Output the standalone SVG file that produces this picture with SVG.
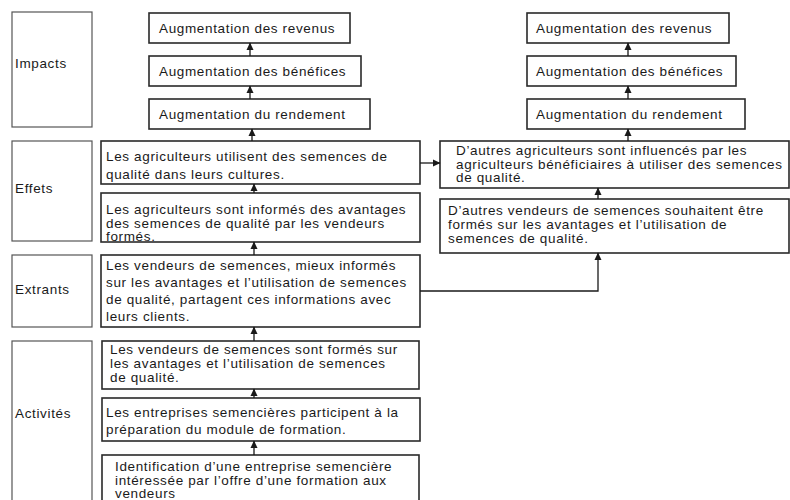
<svg xmlns="http://www.w3.org/2000/svg" width="790" height="500" viewBox="0 0 790 500">
<style>
text{font-family:"Liberation Sans",Arial,sans-serif;font-size:13.5px;letter-spacing:0.65px;fill:#1a1a1a}
.lbl{fill:#fff;stroke:#555;stroke-width:1.2}
.box{fill:#fff;stroke:#2a2a2a;stroke-width:1.6}
.con{fill:none;stroke:#1a1a1a;stroke-width:1.3}
</style>
<defs>
<marker id="ah" markerUnits="userSpaceOnUse" markerWidth="8" markerHeight="8" viewBox="0 0 8 8" refX="7" refY="4" orient="auto">
<path d="M0,0.5 L7.5,4 L0,7.5 Z" fill="#1a1a1a"/>
</marker>
</defs>
<g id="lbl-impacts"><rect class="lbl" x="12" y="12" width="80" height="115"/><text x="15" y="68">Impacts</text></g>
<g id="lbl-effets"><rect class="lbl" x="12" y="141" width="80" height="100"/><text x="15" y="193">Effets</text></g>
<g id="lbl-extrants"><rect class="lbl" x="12" y="255" width="80" height="72"/><text x="15" y="294">Extrants</text></g>
<g id="lbl-activites"><rect class="lbl" x="12" y="341" width="80" height="170"/><text x="15" y="418">Activités</text></g>

<g id="l-revenus"><rect class="box" x="149" y="13" width="201" height="30"/><text x="159" y="33">Augmentation des revenus</text></g>
<g id="l-benefices"><rect class="box" x="149" y="56" width="212" height="30"/><text x="159" y="76">Augmentation des bénéfices</text></g>
<g id="l-rendement"><rect class="box" x="149" y="99" width="221" height="30"/><text x="159" y="119">Augmentation du rendement</text></g>

<g id="r-revenus"><rect class="box" x="527" y="13" width="202" height="30"/><text x="536" y="33">Augmentation des revenus</text></g>
<g id="r-benefices"><rect class="box" x="527" y="56" width="209" height="30"/><text x="536" y="76">Augmentation des bénéfices</text></g>
<g id="r-rendement"><rect class="box" x="527" y="99" width="218" height="30"/><text x="536" y="119">Augmentation du rendement</text></g>

<g id="e1"><rect class="box" x="101" y="141" width="319" height="43"/><text x="106" y="161">Les agriculteurs utilisent des semences de</text><text x="106" y="179">qualité dans leurs cultures.</text></g>
<g id="e2"><rect class="box" x="101" y="193" width="319" height="49"/><text x="106" y="213.5">Les agriculteurs sont informés des avantages</text><text x="106" y="227.5">des semences de qualité par les vendeurs</text><text x="106" y="241">formés.</text></g>
<g id="x1"><rect class="box" x="101" y="255" width="319" height="72"/><text x="106" y="270">Les vendeurs de semences, mieux informés</text><text x="106" y="287">sur les avantages et l’utilisation de semences</text><text x="106" y="304">de qualité, partagent ces informations avec</text><text x="106" y="321">leurs clients.</text></g>
<g id="a1"><rect class="box" x="102" y="341" width="317" height="48"/><text x="110" y="354">Les vendeurs de semences sont formés sur</text><text x="110" y="368">les avantages et l’utilisation de semences</text><text x="110" y="382">de qualité.</text></g>
<g id="a2"><rect class="box" x="102" y="398" width="318" height="43"/><text x="106" y="417">Les entreprises semencières participent à la</text><text x="106" y="434">préparation du module de formation.</text></g>
<g id="a3"><rect class="box" x="102" y="455" width="317" height="60"/><text x="115" y="471">Identification d’une entreprise semencière</text><text x="115" y="484.5">intéressée par l’offre d’une formation aux</text><text x="115" y="498">vendeurs</text></g>

<g id="ra"><rect class="box" x="440" y="141" width="349" height="47"/><text x="456" y="155">D’autres agriculteurs sont influencés par les</text><text x="456" y="168.5">agriculteurs bénéficiaires à utiliser des semences</text><text x="456" y="182">de qualité.</text></g>
<g id="rb"><rect class="box" x="440" y="199" width="349" height="54"/><text x="448" y="215">D’autres vendeurs de semences souhaitent être</text><text x="448" y="229">formés sur les avantages et l’utilisation de</text><text x="448" y="243">semences de qualité.</text></g>

<g id="connectors">
<line class="con" x1="250" y1="56" x2="250" y2="43" marker-end="url(#ah)"/>
<line class="con" x1="250" y1="99" x2="250" y2="86" marker-end="url(#ah)"/>
<line class="con" x1="252" y1="141" x2="252" y2="129" marker-end="url(#ah)"/>
<line class="con" x1="254" y1="193" x2="254" y2="184" marker-end="url(#ah)"/>
<line class="con" x1="254" y1="255" x2="254" y2="242" marker-end="url(#ah)"/>
<line class="con" x1="254" y1="341" x2="254" y2="327" marker-end="url(#ah)"/>
<line class="con" x1="254" y1="398" x2="254" y2="389" marker-end="url(#ah)"/>
<line class="con" x1="254" y1="455" x2="254" y2="441" marker-end="url(#ah)"/>
<line class="con" x1="628" y1="56" x2="628" y2="43" marker-end="url(#ah)"/>
<line class="con" x1="628" y1="99" x2="628" y2="86" marker-end="url(#ah)"/>
<line class="con" x1="628" y1="141" x2="628" y2="129" marker-end="url(#ah)"/>
<line class="con" x1="598" y1="199" x2="598" y2="188" marker-end="url(#ah)"/>
<line class="con" x1="420" y1="163" x2="440" y2="163" marker-end="url(#ah)"/>
<path class="con" d="M420,291 H598 V253" marker-end="url(#ah)"/>
</g>
</svg>
